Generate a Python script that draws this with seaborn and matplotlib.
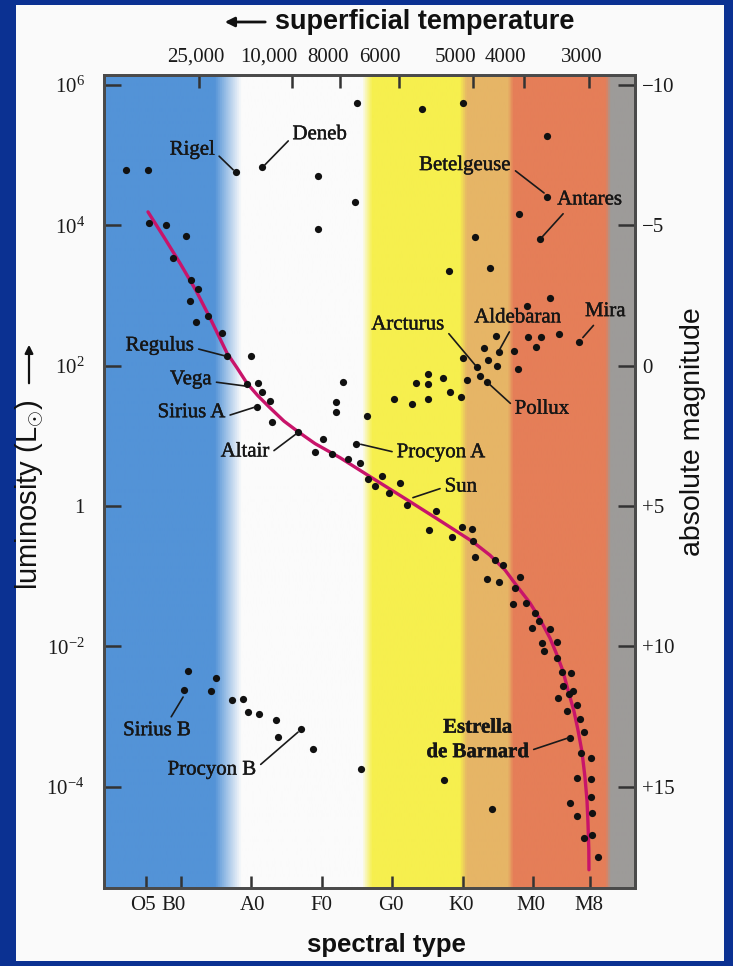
import numpy as np
import pandas as pd
import matplotlib
matplotlib.use("Agg")
import matplotlib.pyplot as plt
import matplotlib.patheffects as pe
from matplotlib.colors import LinearSegmentedColormap
from matplotlib.patches import Rectangle
import seaborn as sns

# spectral type as a number: O0=0, B0=10, A0=20, F0=30, G0=40, K0=50, M0=60
SPEC_TICKS = [5, 10, 20, 30, 40, 50, 60, 68]
SPEC_LABELS = ["O5", "B0", "A0", "F0", "G0", "K0", "M0", "M8"]
SPEC_LABEL_AT = [4.6, 9.0, 20.1, 29.9, 39.8, 49.8, 59.7, 67.9]

# surface temperature marks on the top axis (placed on the spectral scale)
TEMP_TICKS = [12.6, 25.7, 32.6, 40.9, 51.4, 58.7, 67.9]
TEMP_LABELS = ["25,000", "10,000", "8000", "6000", "5000", "4000", "3000"]
TEMP_LABEL_AT = [12.1, 22.5, 30.8, 38.2, 49.0, 56.0, 66.9]

# log10 luminosity (solar units)
LUM_TICKS = [6, 4, 2, 0, -2, -4]
LUM_LABELS = [r"$10^{6}$", r"$10^{4}$", r"$10^{2}$", "1", r"$10^{-2}$", r"$10^{-4}$"]

# absolute magnitude on the right axis
MAG_TICKS = [-10, -5, 0, 5, 10, 15]
MAG_LABELS = ["\u221210", "\u22125", "0", "+5", "+10", "+15"]

# main sequence curve
MS_TYPE = [5.32, 7.59, 9.86, 12.13, 14.26, 16.52, 17.94, 19.36, 20.92, 22.62,
           24.61, 26.60, 29.01, 32.55, 36.81, 42.06, 46.31, 51.42, 53.83, 55.96,
           57.66, 59.50, 60.92, 62.34, 63.33, 64.18, 64.89, 65.74, 66.31, 66.88,
           67.30, 67.59, 67.73, 67.85, 67.87]
MS_LOGL = [4.19, 3.83, 3.46, 3.07, 2.65, 2.18, 1.97, 1.75, 1.57, 1.40,
           1.21, 1.06, 0.89, 0.69, 0.42, 0.09, -0.18, -0.51, -0.70, -0.91,
           -1.14, -1.38, -1.61, -1.88, -2.12, -2.35, -2.62, -2.92, -3.19, -3.50,
           -3.86, -4.19, -4.51, -4.90, -5.18]

# stars
SUPERGIANT_TYPE = [35.0, 44.2, 50.0, 2.2, 5.3, 17.8, 21.5, 29.4, 34.7, 29.4,
                   61.9, 61.9, 57.9, 60.9, 51.7, 48.0, 53.8]
SUPERGIANT_LOGL = [5.74, 5.66, 5.74, 4.79, 4.79, 4.76, 4.83, 4.70, 4.33, 3.95,
                   5.27, 4.40, 4.16, 3.81, 3.83, 3.35, 3.39]

GIANT_TYPE = [62.3, 59.1, 54.7, 59.2, 61.1, 63.6, 66.5, 60.4, 53.0, 55.1, 57.2,
              50.0, 53.5, 52.0, 54.8, 57.8, 52.4, 53.4, 50.6, 45.0, 47.2, 43.3,
              45.0, 48.2, 49.7, 45.0, 40.2, 42.8, 36.4, 33.0, 32.0, 32.0, 34.8]
GIANT_LOGL = [2.97, 2.85, 2.42, 2.41, 2.41, 2.45, 2.34, 2.27, 2.25, 2.20, 2.21,
              2.11, 2.08, 1.98, 2.00, 1.95, 1.85, 1.77, 1.80, 1.88, 1.83, 1.76,
              1.74, 1.63, 1.56, 1.53, 1.53, 1.46, 1.29, 1.77, 1.48, 1.34, 0.89]

MAIN_TYPE = [5.5, 7.9, 10.7, 8.9, 11.4, 12.4, 11.3, 13.8, 12.1, 15.8, 16.5,
             19.9, 19.4, 20.9, 21.5, 22.6, 20.8, 22.9, 26.6, 30.1, 29.0, 31.4,
             33.7, 35.4, 36.5, 38.5, 37.5, 41.1, 39.5, 42.1, 46.2, 45.2, 48.4,
             49.9, 51.3, 51.4, 51.7, 54.5, 55.7, 53.4, 55.1, 58.1, 57.4, 57.1,
             58.9, 60.2, 60.8, 59.8, 62.3, 61.2, 63.3, 61.5, 63.3, 64.0, 65.3,
             64.2, 65.6, 65.0, 63.5, 66.2, 64.8, 66.6, 67.2, 65.2, 66.7, 68.2,
             66.2, 68.2, 68.2, 65.2, 66.2, 68.3, 67.2, 68.3, 69.1]
MAIN_LOGL = [4.03, 4.01, 3.85, 3.54, 3.22, 3.09, 2.92, 2.71, 2.62, 2.47, 2.14,
             2.14, 1.74, 1.76, 1.63, 1.50, 1.41, 1.20, 1.06, 0.96, 0.77, 0.74,
             0.67, 0.62, 0.39, 0.43, 0.29, 0.33, 0.19, 0.02, -0.07, -0.34, -0.44,
             -0.30, -0.32, -0.50, -0.72, -0.77, -0.84, -1.04, -1.08, -1.01, -1.17,
             -1.39, -1.38, -1.52, -1.64, -1.74, -1.75, -1.95, -1.93, -2.06, -2.16,
             -2.36, -2.38, -2.56, -2.63, -2.68, -2.73, -2.83, -2.92, -3.03, -3.22,
             -3.30, -3.52, -3.59, -3.87, -3.89, -4.14, -4.23, -4.41, -4.37, -4.73,
             -4.68, -5.00]

DWARF_TYPE = [11.0, 15.0, 10.4, 14.3, 17.2, 18.8, 19.5, 21.1, 23.5, 23.8, 27.0,
              28.7, 35.5, 47.3, 54.1]
DWARF_LOGL = [-2.35, -2.45, -2.62, -2.63, -2.76, -2.75, -2.93, -2.96, -3.05,
              -3.29, -3.17, -3.46, -3.74, -3.90, -4.31]

# named stars: label, text position, anchor of the leader on the text, leader end
NAMED = [
    ("Rigel", (11.6, 5.07), (1.0, 0.4), (17.4, 4.79)),
    ("Deneb", (29.7, 5.29), (0.0, 0.4), (21.9, 4.86)),
    ("Betelgeuse", (50.3, 4.85), (1.0, 0.4), (61.5, 4.46)),
    ("Antares", (68.0, 4.36), (0.15, 0.0), (61.2, 3.83)),
    ("Mira", (70.2, 2.77), (0.3, 0.0), (67.0, 2.40)),
    ("Aldebaran", (57.8, 2.68), (0.43, 0.0), (55.2, 2.23)),
    ("Arcturus", (42.2, 2.58), (1.0, 0.3), (51.8, 2.00)),
    ("Pollux", (61.2, 1.38), (0.0, 0.6), (53.7, 1.74)),
    ("Regulus", (7.0, 2.28), (1.0, 0.4), (16.2, 2.14)),
    ("Vega", (11.4, 1.80), (1.0, 0.4), (19.1, 1.71)),
    ("Sirius A", (11.5, 1.33), (1.0, 0.3), (20.5, 1.41)),
    ("Altair", (19.1, 0.77), (1.0, 0.4), (26.5, 1.04)),
    ("Procyon A", (46.9, 0.76), (0.0, 0.5), (35.5, 0.88)),
    ("Sun", (49.7, 0.27), (0.0, 0.5), (42.9, 0.12)),
    ("Sirius B", (6.6, -3.20), (0.67, 1.0), (10.3, -2.72)),
    ("Procyon B", (14.4, -3.76), (1.0, 0.6), (26.6, -3.22)),
    ("Estrella\nde Barnard", (52.1, -3.33), (1.0, 0.25), (65.0, -3.30)),
]

XLIM = (-0.92, 74.4)
YLIM = (-5.44, 6.14)

# colour bands behind the data (spectral position, colour)
BAND_STOPS = [(-0.92, "#5393d7"), (14.7, "#5393d7"), (18.5, "#fbfbfb"),
              (35.7, "#fbfbfb"), (37.1, "#f6ef4e"), (49.6, "#f6ef4e"),
              (50.6, "#e6b566"), (56.5, "#e6b566"), (57.2, "#e57e58"),
              (70.4, "#e57e58"), (71.1, "#9d9b99"), (74.4, "#9d9b99")]

W, H = 733, 966

sns.set_theme(style="ticks")
plt.rcParams["font.family"] = ["Liberation Serif", "DejaVu Serif"]
plt.rcParams["mathtext.fontset"] = "custom"
plt.rcParams["mathtext.rm"] = "Liberation Serif"
plt.rcParams["mathtext.it"] = "Liberation Serif:italic"
plt.rcParams["axes.unicode_minus"] = True

stars = pd.DataFrame({
    "spectral": SUPERGIANT_TYPE + GIANT_TYPE + MAIN_TYPE + DWARF_TYPE,
    "logl": SUPERGIANT_LOGL + GIANT_LOGL + MAIN_LOGL + DWARF_LOGL,
})

fig = plt.figure(figsize=(W / 100, H / 100), dpi=100)
fig.patch.set_facecolor("#0b3192")
fig.add_artist(Rectangle((16 / W, 5 / H), (724 - 16) / W, (961 - 5) / H,
                         transform=fig.transFigure, facecolor="#fafafa",
                         edgecolor="none", zorder=-1))

ax = fig.add_axes([104 / W, 1 - 888 / H, (635 - 104) / W, (888 - 75) / H])

# background bands
span = XLIM[1] - XLIM[0]
stops = [((p - XLIM[0]) / span, c) for p, c in BAND_STOPS]
band_cmap = LinearSegmentedColormap.from_list("bands", stops)
ax.imshow(np.linspace(0, 1, 1024).reshape(1, -1), extent=[*XLIM, *YLIM],
          aspect="auto", cmap=band_cmap, interpolation="bilinear", zorder=0)

sns.lineplot(x=MS_TYPE, y=MS_LOGL, color="#c8146a", linewidth=2.4, sort=False,
             estimator=None, ax=ax, zorder=3)
sns.scatterplot(data=stars, x="spectral", y="logl", color="#111111", s=27,
                linewidth=0, legend=False, ax=ax, zorder=4)

# the scanned labels look a little heavier than a plain regular face
heavier = [pe.withStroke(linewidth=0.3, foreground="#161616")]
for name, txt, rel, end in NAMED:
    bold = name.startswith("Estrella")
    ax.annotate(name, xy=end, xytext=txt, ha="center", va="center",
                fontsize=15, color="#161616", linespacing=1.3,
                fontweight="bold" if bold else "normal",
                path_effects=heavier,
                arrowprops=dict(arrowstyle="-", color="#1a1a1a", lw=1.2,
                                relpos=rel, shrinkA=1, shrinkB=0),
                zorder=5)

ax.set_xlim(*XLIM)
ax.set_ylim(*YLIM)
ax.set_xlabel("")
ax.set_ylabel("")

tick_kw = dict(direction="in", width=1.8, color="#333333", labelsize=15,
               labelcolor="#1a1a1a")

# tick marks and their labels sit slightly apart in the original, so the
# labels go on zero-length minor ticks
ax.set_xticks(SPEC_TICKS, [""] * len(SPEC_TICKS))
ax.set_xticks(SPEC_LABEL_AT, SPEC_LABELS, minor=True)
ax.set_yticks(LUM_TICKS, LUM_LABELS)
ax.tick_params(axis="x", which="major", length=9, top=False, **tick_kw)
ax.tick_params(axis="x", which="minor", length=0, pad=6, top=False, **tick_kw)
ax.tick_params(axis="y", length=12, pad=14, right=False, **tick_kw)
ax.tick_params(axis="y", which="minor", left=False, right=False)

ax_top = ax.twiny()
ax_top.set_xlim(*XLIM)
ax_top.set_xticks(TEMP_TICKS, [""] * len(TEMP_TICKS))
ax_top.set_xticks(TEMP_LABEL_AT, TEMP_LABELS, minor=True)
ax_top.tick_params(axis="x", which="major", length=9, **tick_kw)
ax_top.tick_params(axis="x", which="minor", length=0, pad=6, **tick_kw)

mag = ax.secondary_yaxis("right", functions=(lambda l: 5 - 2.5 * l,
                                             lambda m: (5 - m) / 2.5))
mag.set_yticks(MAG_TICKS, MAG_LABELS)
mag.tick_params(axis="y", length=12, pad=5, **tick_kw)
mag.tick_params(axis="y", which="minor", length=0)

for a in (ax, ax_top, mag):
    for sp in a.spines.values():
        sp.set_color("#4a4a4a")
        sp.set_linewidth(2)

# axis titles
sans = "Liberation Sans"
fig.text(425 / W, 1 - 22 / H, "superficial temperature", ha="center",
         va="center", fontsize=19.5, fontweight="bold", family=sans,
         color="#111111")
ax.annotate("", xy=(222 / W, 1 - 22 / H), xytext=(268 / W, 1 - 22 / H),
            xycoords="figure fraction", textcoords="figure fraction",
            arrowprops=dict(arrowstyle="-|>", color="#111111", lw=2,
                            mutation_scale=14), annotation_clip=False)
fig.text(386 / W, 1 - 945 / H, "spectral type", ha="center", va="center",
         fontsize=18.5, fontweight="bold", family=sans, color="#111111")
fig.text(693 / W, 1 - 432 / H, "absolute magnitude", ha="center", va="center",
         rotation=90, fontsize=20.5, family=sans, color="#111111")
fig.text(29 / W, 1 - 495 / H, r"luminosity (L$_{\odot}$)", ha="center",
         va="center", rotation=90, fontsize=21, family=sans, color="#111111")
ax.annotate("", xy=(29 / W, 1 - 342 / H), xytext=(29 / W, 1 - 386 / H),
            xycoords="figure fraction", textcoords="figure fraction",
            arrowprops=dict(arrowstyle="-|>", color="#111111", lw=1.6,
                            mutation_scale=12), annotation_clip=False)

fig.savefig("out.png", dpi=100, facecolor=fig.get_facecolor())
